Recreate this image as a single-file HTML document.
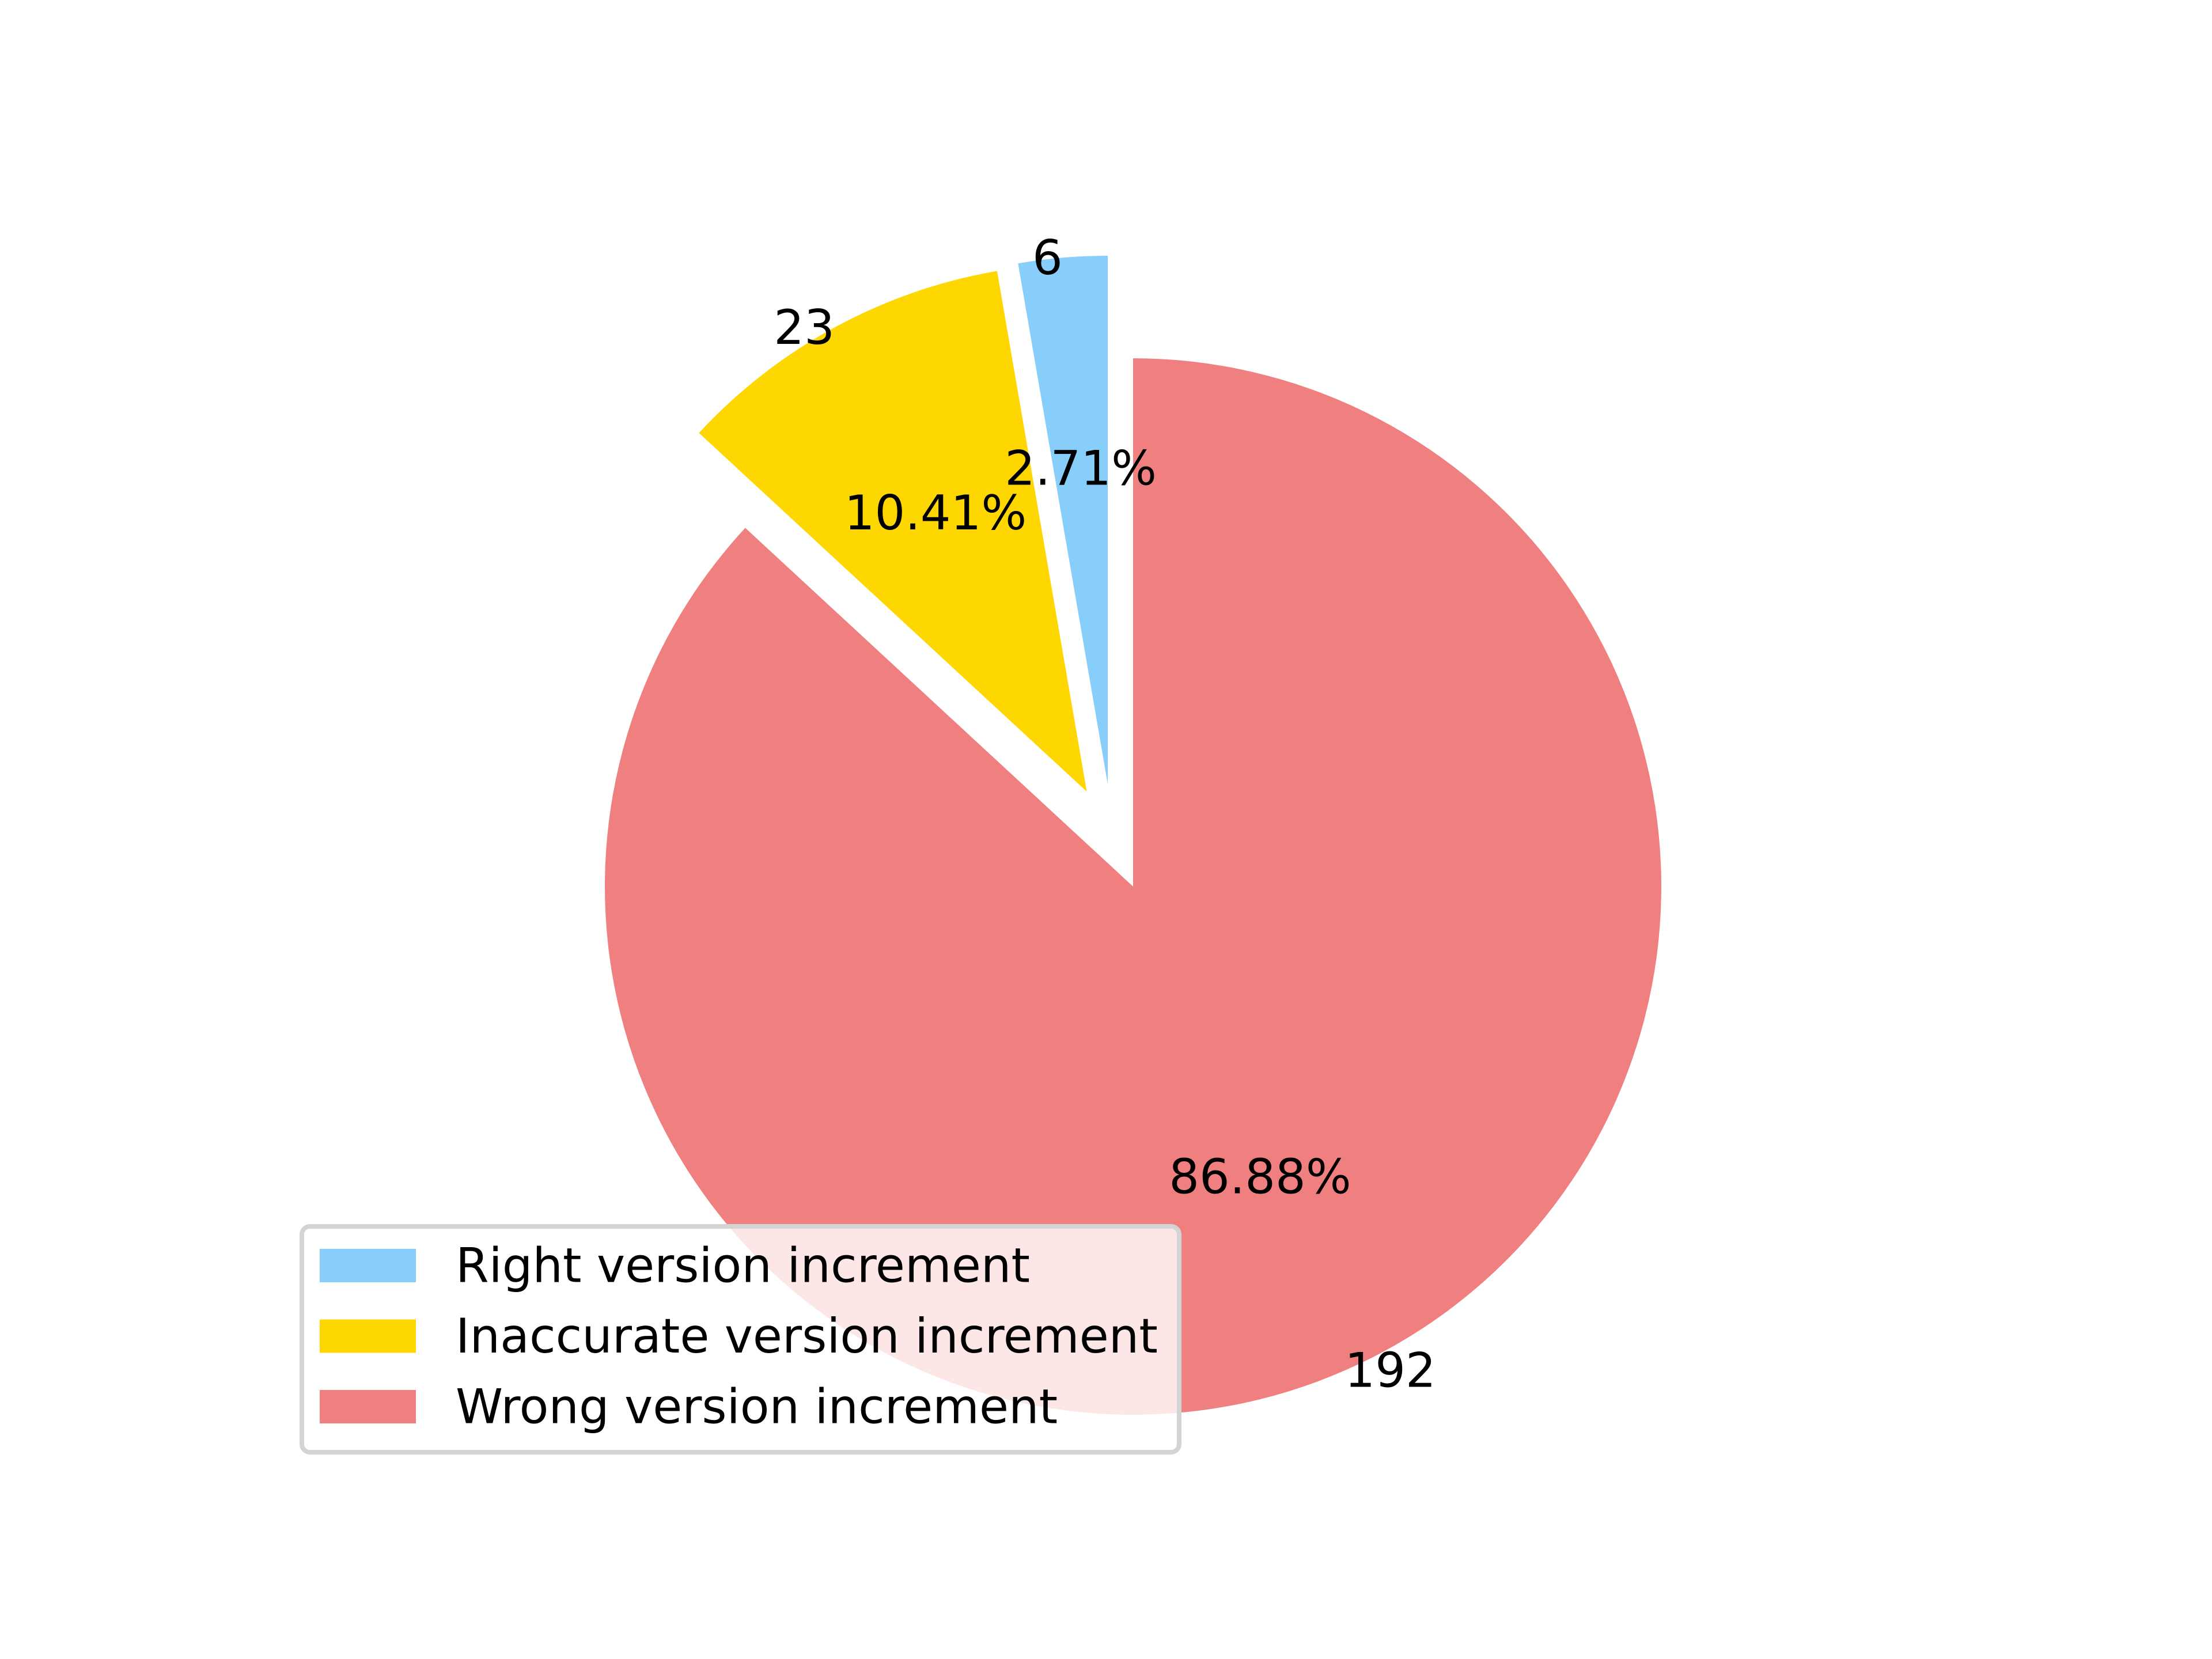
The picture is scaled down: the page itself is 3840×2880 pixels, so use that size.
<!DOCTYPE html>
<html><head><meta charset="utf-8"><style>
html,body{margin:0;padding:0;background:#fff;}
svg{display:block;}
text{font-family:"DejaVu Sans","Liberation Sans",sans-serif;font-size:83px;fill:#000;}
</style></head><body>
<svg id="chart" width="3840" height="2880" viewBox="0 0 3840 2880" xmlns="http://www.w3.org/2000/svg">
<rect width="3840" height="2880" fill="#fff"/>
<g id="slices"></g>
<g id="labels"></g>
<g id="legend"></g>
</svg>
<script>
const categories = ["Right version increment", "Inaccurate version increment", "Wrong version increment"];
const counts = [6, 23, 192];
const colors = ["#87cefa", "#ffd700", "#f08080"];
const explodes = [0.2, 0.2, 0];

const NS = "http://www.w3.org/2000/svg";
const cx = 1967, cy = 1539, R = 917;
const skew = [9, -2.5, 0];
const total = counts.reduce((a, b) => a + b, 0);
const slices = document.getElementById('slices');
const labels = document.getElementById('labels');
const legend = document.getElementById('legend');
function pt(a, r, ox, oy) { const t = a * Math.PI / 180; return [ox + r * Math.cos(t), oy - r * Math.sin(t)]; }
function mk(tag, attrs, parent) { const e = document.createElementNS(NS, tag); for (const k in attrs) e.setAttribute(k, attrs[k]); parent.appendChild(e); return e; }
let start = 90;
counts.forEach((v, i) => {
  const sweep = v / total * 360;
  const mid = start + sweep / 2;
  const ex = explodes[i] * R;
  const dirA = mid + skew[i];
  const ox = cx + ex * Math.cos(dirA * Math.PI / 180), oy = cy - ex * Math.sin(dirA * Math.PI / 180);
  const p1 = pt(start, R, ox, oy), p2 = pt(start + sweep, R, ox, oy);
  const large = sweep > 180 ? 1 : 0;
  const path = mk('path', { d: `M${ox},${oy} L${p1[0]},${p1[1]} A${R},${R} 0 ${large} 0 ${p2[0]},${p2[1]} Z`, fill: colors[i] }, slices);
  
  
  const pc = pt(mid, R * 0.6, ox, oy);
  const t1 = mk('text', { x: pc[0], y: pc[1], 'text-anchor': 'middle', 'dominant-baseline': 'central' }, labels);
  t1.textContent = (v / total * 100).toFixed(2) + '%';
  
  
  const pl = pt(mid, R * 1.0, ox, oy);
  const anchor = Math.cos(mid * Math.PI / 180) < 0 ? 'end' : 'start';
  const t2 = mk('text', { x: pl[0], y: pl[1], 'text-anchor': anchor, 'dominant-baseline': 'central' }, labels);
  t2.textContent = String(v);
  
  
  start += sweep;
});
const box = mk('rect', { x: 524, y: 2129, width: 1523, height: 392, rx: 14, fill: 'rgba(255,255,255,0.8)', stroke: '#d4d4d4', 'stroke-width': 8 }, legend);


categories.forEach((c, i) => {
  const y = 2168 + i * 122.5;
  const r = mk('rect', { x: 555, y: y, width: 167, height: 58, fill: colors[i] }, legend);
  
  
  const t = mk('text', { x: 791, y: y + 29, 'dominant-baseline': 'central' }, legend);
  t.textContent = c;
  
  
});
</script>
</body></html>
